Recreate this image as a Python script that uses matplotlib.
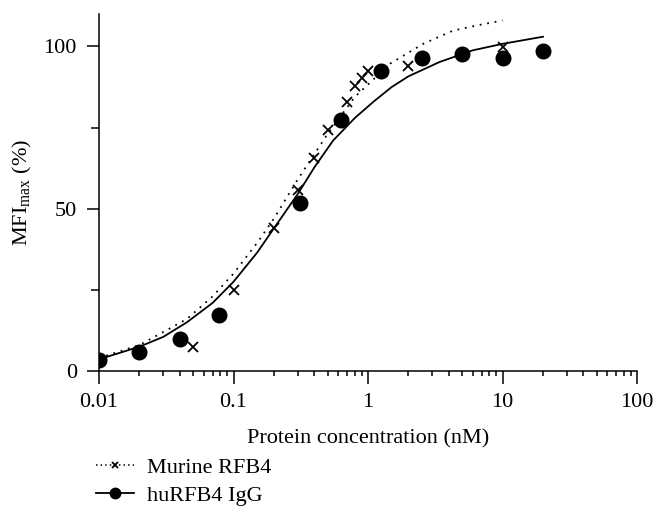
import matplotlib
matplotlib.use("Agg")
import matplotlib.pyplot as plt
from matplotlib.ticker import FixedLocator, FixedFormatter, NullFormatter

plt.rcParams['font.family'] = ['Liberation Serif', 'DejaVu Serif']

# Measured data points
murine_x = [0.05, 0.1, 0.2, 0.3, 0.4, 0.5, 0.7, 0.8, 0.9, 1.0, 2.0, 10.0]
murine_y = [7.5, 25, 44, 55.7, 65.7, 74.4, 83, 87.7, 90.4, 92.4, 94, 99.8]

hu_x = [0.01, 0.02, 0.04, 0.078, 0.3125, 0.625, 1.25, 2.5, 5, 10, 20]
hu_y = [3.4, 5.9, 10, 17.2, 51.9, 77.4, 92.3, 96.4, 97.7, 96.4, 98.5]

# Fitted curves
murine_fit_x = [0.01, 0.02, 0.045, 0.07, 0.1, 0.15, 0.2, 0.3, 0.5, 0.8, 1.46, 2.57, 4.3, 6.5, 10.0]
murine_fit_y = [4, 8, 16, 23, 30, 39.5, 47, 59, 73, 84.5, 94.7, 100.8, 104.9, 106.5, 108]

hu_fit_x = [0.01, 0.02, 0.03, 0.045, 0.07, 0.1, 0.15, 0.2, 0.3, 0.4, 0.55, 0.8, 1.1, 1.5, 2.0, 3.4, 6.0, 10.0, 20.0]
hu_fit_y = [3.6, 7.5, 10.5, 15, 21, 27.5, 36.5, 44, 54.5, 62.8, 71, 78, 83, 87.5, 90.8, 95.2, 98.8, 100.8, 103]

x_ticks = [0.01, 0.1, 1, 10, 100]
x_tick_labels = ["0.01", "0.1", "1", "10", "100"]
y_ticks = [0, 50, 100]
y_minor = [25, 75]

fig = plt.figure(figsize=(6.65, 5.22), dpi=100)
ax = fig.add_axes([99/665, 1-371/522, (637-99)/665, (371-14)/522])

ax.plot(murine_fit_x, murine_fit_y, linestyle=(0, (1, 3.2)), color='black', lw=1.3)
ax.plot(hu_fit_x, hu_fit_y, linestyle='-', color='black', lw=1.3)
ax.plot(murine_x, murine_y, linestyle='none', marker='x', ms=6.5, mew=1.3, color='black')
ax.plot(hu_x, hu_y, linestyle='none', marker='o', ms=10.5, color='black')

# legend proxies
l1, = ax.plot([], [], linestyle=(0, (1, 2)), color='black', lw=1.1, marker='x', ms=5, mew=1.3)
l2, = ax.plot([], [], linestyle='-', color='black', lw=1.3, marker='o', ms=7.5)

ax.set_xscale('log')
ax.set_xlim(0.01, 100)
ax.set_ylim(0, 110)

ax.xaxis.set_major_locator(FixedLocator(x_ticks))
ax.xaxis.set_major_formatter(FixedFormatter(x_tick_labels))
minor_x = [m * d for d in [0.01, 0.1, 1, 10] for m in range(2, 10)]
ax.xaxis.set_minor_locator(FixedLocator(minor_x))
ax.xaxis.set_minor_formatter(NullFormatter())
ax.yaxis.set_major_locator(FixedLocator(y_ticks))
ax.yaxis.set_minor_locator(FixedLocator(y_minor))

for s in ['top', 'right']:
    ax.spines[s].set_visible(False)
for s in ['left', 'bottom']:
    ax.spines[s].set_linewidth(1.1)

ax.tick_params(axis='both', which='major', direction='out', length=9, width=1.1, labelsize=16, pad=7)
ax.tick_params(axis='x', which='minor', direction='out', length=3.8, width=1.1)
ax.tick_params(axis='y', which='minor', direction='out', length=6, width=1.1)

ax.set_xlabel('Protein concentration (nM)', fontsize=16, labelpad=12)
ax.set_ylabel(r'MFI$_{\mathregular{max}}$ (%)', fontsize=16, labelpad=7)

fig.legend([l1, l2], ['Murine RFB4', 'huRFB4 IgG'], loc='upper left',
           bbox_to_anchor=(96/665, 1-457/522), frameon=False, fontsize=16,
           handlelength=1.7, handletextpad=0.6, labelspacing=0.35, borderpad=0,
           borderaxespad=0)

fig.savefig('out.png', dpi=100)
